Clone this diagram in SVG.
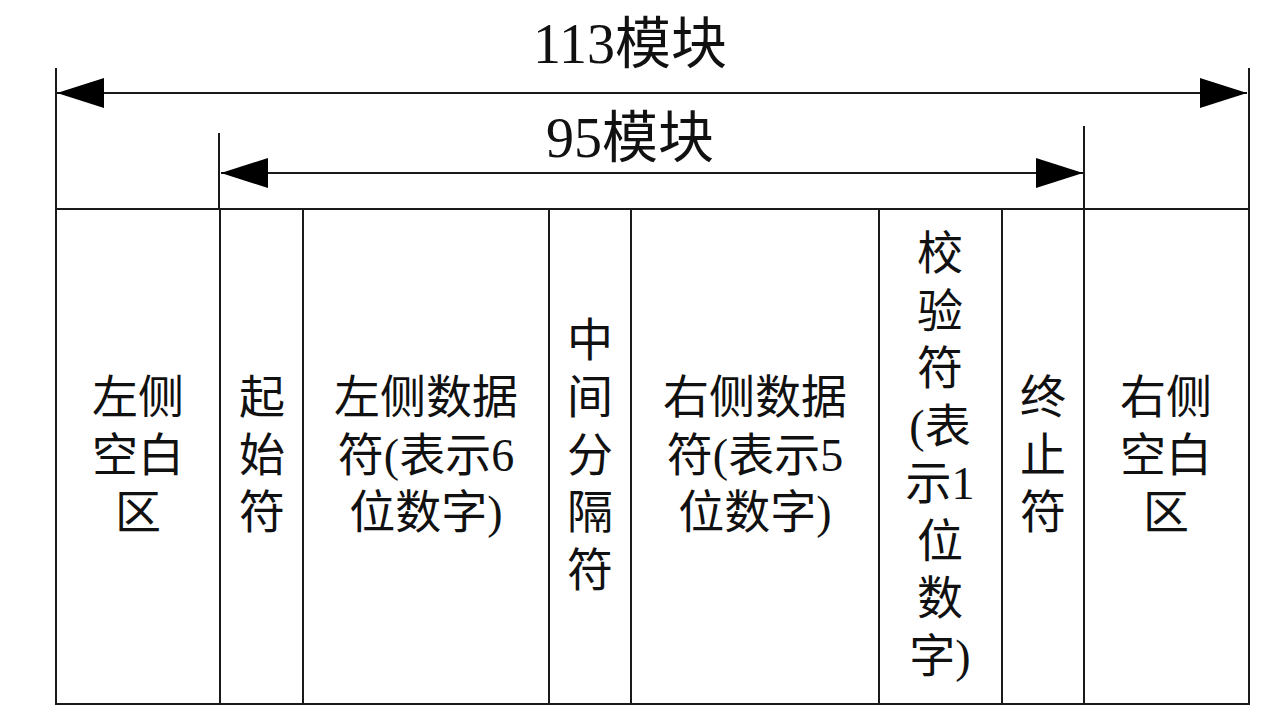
<svg xmlns="http://www.w3.org/2000/svg" width="1277" height="726" viewBox="0 0 1277 726">
<style>
.ln{stroke:#1a1a1a;stroke-width:2;fill:none}
.t{font-family:"Liberation Serif","Noto Sans CJK SC",serif;font-size:46px;fill:#111;text-anchor:middle}
.h{font-family:"Liberation Serif","Noto Sans CJK SC",serif;font-size:56px;fill:#111;text-anchor:middle}
</style>
<defs>
<marker id="ah" viewBox="0 0 47 30" markerWidth="47" markerHeight="30" refX="47" refY="15" markerUnits="userSpaceOnUse" orient="auto-start-reverse">
<path d="M0,0 L47,15 L0,30 Z" fill="#000"/>
</marker>
</defs>
<rect width="1277" height="726" fill="#fff"/>
<g id="frame">
<rect class="ln" x="56" y="209" width="1193" height="495"/>
<line class="ln" x1="56" y1="68" x2="56" y2="209"/>
<line class="ln" x1="1249" y1="68" x2="1249" y2="209"/>
<line class="ln" x1="219" y1="133" x2="219" y2="209"/>
<line class="ln" x1="1084" y1="126" x2="1084" y2="209"/>
<line class="ln" x1="220" y1="209" x2="220" y2="704"/>
<line class="ln" x1="303" y1="209" x2="303" y2="704"/>
<line class="ln" x1="549" y1="209" x2="549" y2="704"/>
<line class="ln" x1="631" y1="209" x2="631" y2="704"/>
<line class="ln" x1="879" y1="209" x2="879" y2="704"/>
<line class="ln" x1="1002" y1="209" x2="1002" y2="704"/>
<line class="ln" x1="1084" y1="209" x2="1084" y2="704"/>
</g>
<g id="connectors">
<line class="ln" x1="57" y1="93" x2="1247" y2="93" marker-start="url(#ah)" marker-end="url(#ah)"/>
<line class="ln" x1="221" y1="173" x2="1083" y2="173" marker-start="url(#ah)" marker-end="url(#ah)"/>
</g>
<g id="label-113"><text class="h" x="630" y="63">113模块</text></g>
<g id="label-95"><text class="h" x="630" y="157">95模块</text></g>
<g id="left-quiet"><text class="t" y="413"><tspan x="138">左侧</tspan><tspan x="138" dy="57.5">空白</tspan><tspan x="138" dy="57.5">区</tspan></text></g>
<g id="start"><text class="t" y="413"><tspan x="262">起</tspan><tspan x="262" dy="57.5">始</tspan><tspan x="262" dy="57.5">符</tspan></text></g>
<g id="left-data"><text class="t" y="413"><tspan x="426">左侧数据</tspan><tspan x="426" dy="57.5">符(表示6</tspan><tspan x="426" dy="57.5">位数字)</tspan></text></g>
<g id="middle"><text class="t" y="355.5"><tspan x="590">中</tspan><tspan x="590" dy="57.5">间</tspan><tspan x="590" dy="57.5">分</tspan><tspan x="590" dy="57.5">隔</tspan><tspan x="590" dy="57.5">符</tspan></text></g>
<g id="right-data"><text class="t" y="413"><tspan x="755">右侧数据</tspan><tspan x="755" dy="57.5">符(表示5</tspan><tspan x="755" dy="57.5">位数字)</tspan></text></g>
<g id="check"><text class="t" y="269"><tspan x="940">校</tspan><tspan x="940" dy="57.5">验</tspan><tspan x="940" dy="57.5">符</tspan><tspan x="940" dy="57.5">(表</tspan><tspan x="940" dy="57.5">示1</tspan><tspan x="940" dy="57.5">位</tspan><tspan x="940" dy="57.5">数</tspan><tspan x="940" dy="57.5">字)</tspan></text></g>
<g id="end"><text class="t" y="413"><tspan x="1043">终</tspan><tspan x="1043" dy="57.5">止</tspan><tspan x="1043" dy="57.5">符</tspan></text></g>
<g id="right-quiet"><text class="t" y="413"><tspan x="1166">右侧</tspan><tspan x="1166" dy="57.5">空白</tspan><tspan x="1166" dy="57.5">区</tspan></text></g>
</svg>
